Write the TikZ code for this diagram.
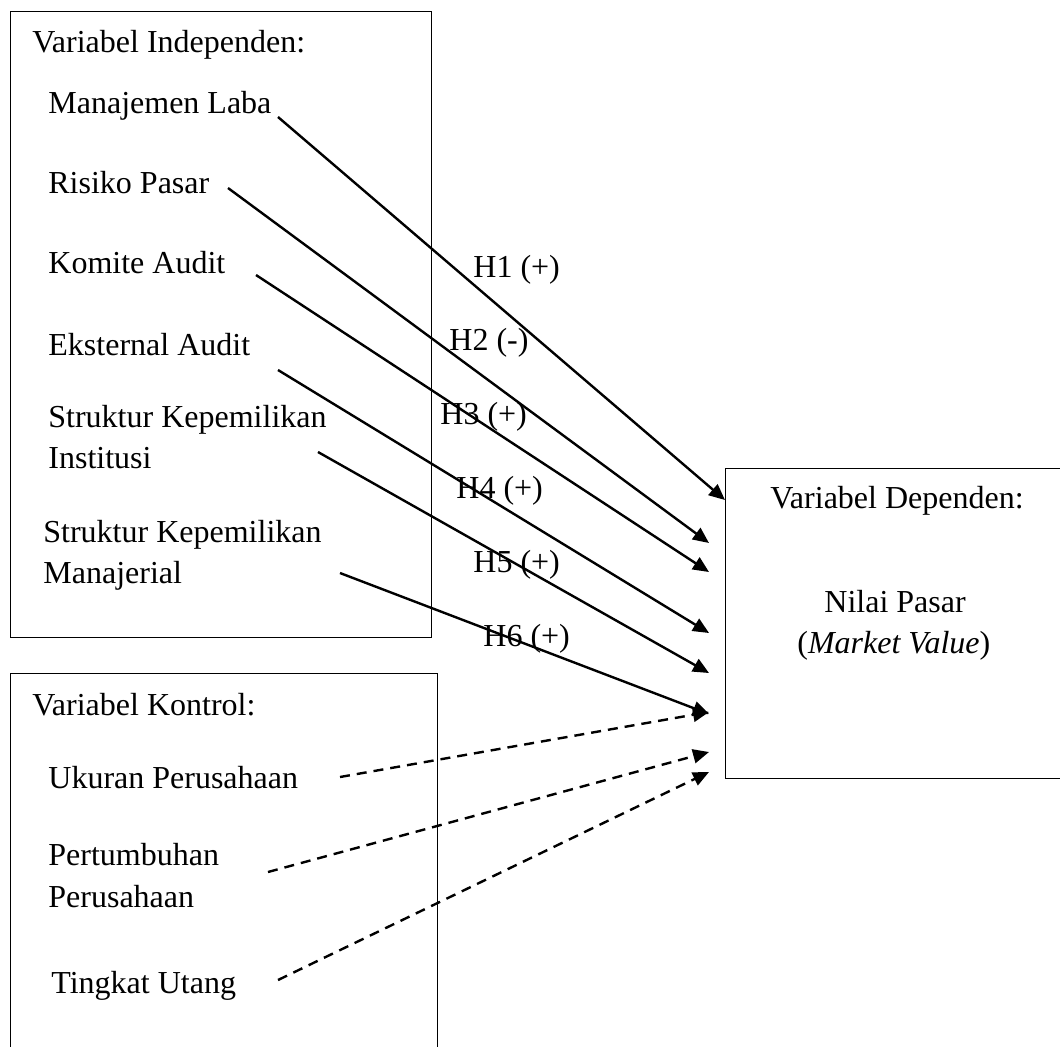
\documentclass[tikz,border=0pt]{standalone}
\usepackage{fontspec}
\setmainfont{Liberation Serif}
\usetikzlibrary{arrows.meta}
\begin{document}
\begin{tikzpicture}[x=0.5pt,y=-0.5pt,
  txt/.style={anchor=base west, inner sep=0pt, font=\fontsize{16}{20}\selectfont},
  box/.style={draw, line width=0.7pt, anchor=north west, inner sep=0pt},
  arr/.style={line width=1.2pt, -{Triangle[length=8pt,width=7pt]}},
  darr/.style={arr, dash pattern=on 5pt off 3.5pt},
]
\useasboundingbox (0,0) rectangle (1060,1046);
\clip (0,0) rectangle (1060,1046);
% boxes
\node[box, minimum width=210.5pt, minimum height=313pt] (indep) at (10,11) {};
\node[box, minimum width=213.5pt, minimum height=195pt] (kontrol) at (10,673) {};
\node[box, minimum width=175pt, minimum height=155pt] (dep) at (725,468) {};
% texts box 1
\node[txt] (tindep) at (32,52) {Variabel Independen:};
\node[txt] (ml) at (48,113) {Manajemen Laba};
\node[txt] (rp) at (48,193) {Risiko Pasar};
\node[txt] (ka) at (48,273) {Komite Audit};
\node[txt] (ea) at (48,355) {Eksternal Audit};
\node[txt] (ski1) at (48,427) {Struktur Kepemilikan};
\node[txt] (ski2) at (48,468) {Institusi};
\node[txt] (skm1) at (43,542) {Struktur Kepemilikan};
\node[txt] (skm2) at (43,583) {Manajerial};
% texts box 2
\node[txt] (tkontrol) at (32,715) {Variabel Kontrol:};
\node[txt] (up) at (48,788) {Ukuran Perusahaan};
\node[txt] (pp1) at (48,865) {Pertumbuhan};
\node[txt] (pp2) at (48,907) {Perusahaan};
\node[txt] (tu) at (51,993) {Tingkat Utang};
% texts box 3
\node[txt] (tdep) at (770,508) {Variabel Dependen:};
\node[txt] (np) at (824,612) {Nilai Pasar};
\node[txt] (mv) at (797,653) {(\textit{Market Value})};
% connector coordinates
\coordinate (s1) at (278,117); \coordinate (e1) at (725,500);
\coordinate (s2) at (228,188); \coordinate (e2) at (709,543);
\coordinate (s3) at (256,275); \coordinate (e3) at (709,572);
\coordinate (s4) at (278,370); \coordinate (e4) at (709,633);
\coordinate (s5) at (318,452); \coordinate (e5) at (709,673);
\coordinate (s6) at (340,573); \coordinate (e6) at (709,714);
\coordinate (d1) at (340,777); \coordinate (f1) at (709,712);
\coordinate (d2) at (268,872); \coordinate (f2) at (709,752);
\coordinate (d3) at (278,980); \coordinate (f3) at (709,772);
\draw[arr] (s1) -- (e1);
\draw[arr] (s2) -- (e2);
\draw[arr] (s3) -- (e3);
\draw[arr] (s4) -- (e4);
\draw[arr] (s5) -- (e5);
\draw[arr] (s6) -- (e6);
\draw[darr] (d1) -- (f1);
\draw[darr] (d2) -- (f2);
\draw[darr] (d3) -- (f3);
% hypothesis labels
\node[txt] (h1) at (473,277) {H1 (+)};
\node[txt] (h2) at (449,350) {H2 (-)};
\node[txt] (h3) at (440,424) {H3 (+)};
\node[txt] (h4) at (456,498) {H4 (+)};
\node[txt] (h5) at (473,572) {H5 (+)};
\node[txt] (h6) at (483,646) {H6 (+)};
\end{tikzpicture}
\end{document}
